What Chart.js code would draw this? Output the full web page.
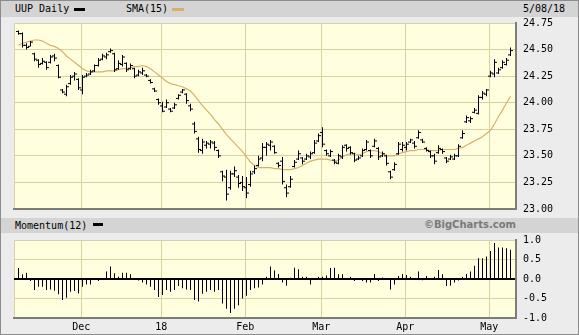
<!DOCTYPE html>
<html>
<head>
<meta charset="utf-8">
<title>UUP Daily</title>
<script src="https://cdn.jsdelivr.net/npm/chart.js@4.4.1/dist/chart.umd.min.js"></script>
<style>
  body { margin: 0; background: #fff; }
  #frame { position: relative; width: 579px; height: 335px; background: #ececec; overflow: hidden;
           font-family: 'DejaVu Sans Mono', monospace; font-size: 10px; color: #000; }
  #edge { position: absolute; left: 0; top: 0; width: 579px; height: 335px; box-sizing: border-box;
          border: 1px solid #8c8c8c; pointer-events: none; z-index: 5; }
  .strip { position: absolute; left: 0; width: 579px; background: #d4d4d4; }
  .txt { position: absolute; white-space: nowrap; line-height: 12px; }
  .sw { position: absolute; height: 3px; }
  canvas { position: absolute; left: 0; }
</style>
</head>
<body>
<div id="frame">
  <div class="strip" style="top:0;height:17px;"></div>
  <div class="txt" style="left:15px;top:3px;">UUP Daily</div>
  <div class="sw" style="left:74px;top:8px;width:11px;background:#000;"></div>
  <div class="txt" style="left:126px;top:3px;">SMA(15)</div>
  <div class="sw" style="left:172px;top:8px;width:12px;background:#d8b06a;"></div>
  <div class="txt" style="left:523px;top:3px;">5/08/18</div>

  <div class="strip" style="top:218px;height:15px;"></div>
  <div class="txt" style="left:15px;top:220px;">Momentum(12)</div>
  <div class="sw" style="left:93px;top:223px;width:10px;background:#000;"></div>
  <div class="txt" style="right:63px;top:219px;font-family:'DejaVu Sans',sans-serif;font-weight:bold;font-size:10px;color:#7a7a7a;">©BigCharts.com</div>

  <canvas id="priceChart" width="579" height="222" style="top:0;"></canvas>
  <canvas id="momChart" width="579" height="106" style="top:227px;"></canvas>
  <div id="edge"></div>
</div>

<script>
// Daily bars, 11/08/17 .. 5/08/18 (one entry per trading day)
const openVals = [
  24.67, 24.65, 24.54, 24.53, 24.46, 24.40, 24.37, 24.38, 24.38, 24.44,
  24.35, 24.12, 24.08, 24.18, 24.25, 24.22, 24.12, 24.25, 24.27, 24.30,
  24.35, 24.41, 24.43, 24.48, 24.46, 24.32, 24.36, 24.37, 24.32, 24.32,
  24.26, 24.28, 24.26, 24.21, 24.13, 24.03, 23.97, 23.96, 23.94, 23.95,
  24.04, 24.10, 24.08, 23.97, 23.80, 23.66, 23.55, 23.60, 23.61, 23.62,
  23.55, 23.35, 23.30, 23.20, 23.33, 23.30, 23.25, 23.20, 23.23, 23.35,
  23.41, 23.48, 23.58, 23.60, 23.59, 23.43, 23.45, 23.20, 23.21, 23.40,
  23.47, 23.48, 23.47, 23.49, 23.53, 23.64, 23.72, 23.55, 23.50, 23.46,
  23.43, 23.49, 23.60, 23.58, 23.52, 23.47, 23.50, 23.56, 23.55, 23.59,
  23.57, 23.50, 23.50, 23.35, 23.37, 23.52, 23.56, 23.58, 23.63, 23.62,
  23.67, 23.65, 23.57, 23.54, 23.50, 23.53, 23.56, 23.48, 23.47, 23.47,
  23.50, 23.67, 23.82, 23.83, 23.91, 23.90, 24.05, 24.08, 24.25, 24.27,
  24.28, 24.33, 24.36, 24.45
];
const highVals = [
  24.68, 24.66, 24.56, 24.58, 24.47, 24.41, 24.42, 24.39, 24.45, 24.46,
  24.36, 24.13, 24.17, 24.26, 24.29, 24.23, 24.26, 24.28, 24.31, 24.36,
  24.42, 24.46, 24.47, 24.51, 24.47, 24.40, 24.45, 24.38, 24.37, 24.33,
  24.31, 24.33, 24.27, 24.22, 24.14, 24.04, 24.01, 24.03, 23.95, 24.00,
  24.08, 24.13, 24.09, 23.99, 23.82, 23.68, 23.66, 23.64, 23.65, 23.64,
  23.56, 23.36, 23.37, 23.36, 23.40, 23.32, 23.31, 23.30, 23.36, 23.41,
  23.50, 23.62, 23.63, 23.65, 23.60, 23.44, 23.49, 23.23, 23.31, 23.46,
  23.55, 23.49, 23.52, 23.54, 23.65, 23.71, 23.77, 23.56, 23.56, 23.47,
  23.52, 23.60, 23.61, 23.59, 23.53, 23.50, 23.57, 23.65, 23.56, 23.66,
  23.58, 23.54, 23.51, 23.36, 23.44, 23.63, 23.63, 23.63, 23.66, 23.64,
  23.74, 23.66, 23.58, 23.55, 23.52, 23.60, 23.57, 23.49, 23.51, 23.52,
  23.61, 23.74, 23.88, 23.87, 23.95, 24.07, 24.11, 24.13, 24.30, 24.41,
  24.33, 24.40, 24.42, 24.52
];
const lowVals = [
  24.64, 24.52, 24.50, 24.53, 24.39, 24.33, 24.36, 24.31, 24.37, 24.39,
  24.23, 24.09, 24.06, 24.17, 24.21, 24.12, 24.08, 24.24, 24.26, 24.29,
  24.34, 24.40, 24.41, 24.47, 24.29, 24.31, 24.34, 24.29, 24.31, 24.23,
  24.25, 24.26, 24.24, 24.18, 24.10, 23.98, 23.91, 23.95, 23.91, 23.94,
  24.03, 24.09, 23.99, 23.92, 23.71, 23.53, 23.52, 23.57, 23.57, 23.55,
  23.48, 23.26, 23.08, 23.18, 23.30, 23.20, 23.17, 23.10, 23.21, 23.33,
  23.40, 23.45, 23.50, 23.55, 23.52, 23.39, 23.23, 23.11, 23.20, 23.39,
  23.46, 23.42, 23.46, 23.47, 23.52, 23.63, 23.58, 23.50, 23.49, 23.42,
  23.42, 23.47, 23.54, 23.51, 23.44, 23.46, 23.49, 23.55, 23.48, 23.58,
  23.46, 23.49, 23.41, 23.28, 23.36, 23.51, 23.54, 23.55, 23.62, 23.57,
  23.66, 23.62, 23.54, 23.48, 23.42, 23.52, 23.52, 23.43, 23.46, 23.46,
  23.49, 23.66, 23.81, 23.81, 23.90, 23.89, 24.03, 24.06, 24.24, 24.24,
  24.27, 24.32, 24.35, 24.44
];
const closeVals = [
  24.65, 24.54, 24.52, 24.57, 24.41, 24.36, 24.39, 24.33, 24.43, 24.42,
  24.24, 24.10, 24.15, 24.24, 24.27, 24.14, 24.24, 24.26, 24.29, 24.35,
  24.40, 24.44, 24.45, 24.49, 24.31, 24.37, 24.43, 24.31, 24.35, 24.25,
  24.29, 24.30, 24.25, 24.19, 24.11, 24.00, 23.92, 24.00, 23.92, 23.98,
  24.07, 24.12, 24.02, 23.94, 23.73, 23.56, 23.63, 23.62, 23.63, 23.58,
  23.50, 23.31, 23.14, 23.33, 23.36, 23.24, 23.21, 23.15, 23.33, 23.38,
  23.47, 23.58, 23.61, 23.63, 23.53, 23.41, 23.26, 23.15, 23.28, 23.44,
  23.52, 23.45, 23.50, 23.52, 23.62, 23.69, 23.61, 23.52, 23.54, 23.44,
  23.50, 23.58, 23.57, 23.53, 23.46, 23.48, 23.55, 23.63, 23.50, 23.64,
  23.49, 23.52, 23.43, 23.30, 23.42, 23.61, 23.60, 23.61, 23.65, 23.59,
  23.72, 23.63, 23.55, 23.50, 23.45, 23.57, 23.54, 23.45, 23.49, 23.50,
  23.59, 23.71, 23.86, 23.85, 23.93, 24.05, 24.09, 24.12, 24.28, 24.38,
  24.31, 24.38, 24.40, 24.49
];
// SMA(15)
const smaVals = [
  24.54, 24.56, 24.57, 24.58, 24.59, 24.59, 24.58, 24.56, 24.54, 24.53,
  24.51, 24.48, 24.44, 24.41, 24.38, 24.35, 24.32, 24.30, 24.29, 24.29,
  24.29, 24.29, 24.30, 24.30, 24.30, 24.31, 24.32, 24.32, 24.33, 24.34,
  24.34, 24.35, 24.34, 24.32, 24.29, 24.26, 24.23, 24.20, 24.18, 24.17,
  24.16, 24.15, 24.13, 24.11, 24.07, 24.02, 23.97, 23.93, 23.89, 23.84,
  23.80, 23.75, 23.70, 23.66, 23.62, 23.58, 23.54, 23.49, 23.44, 23.41,
  23.39, 23.39, 23.39, 23.39, 23.38, 23.38, 23.37, 23.37, 23.37, 23.38,
  23.39, 23.41, 23.43, 23.45, 23.46, 23.47, 23.47, 23.47, 23.46, 23.45,
  23.46, 23.49, 23.51, 23.52, 23.52, 23.51, 23.52, 23.54, 23.55, 23.55,
  23.54, 23.52, 23.50, 23.50, 23.50, 23.52, 23.53, 23.54, 23.55, 23.55,
  23.56, 23.56, 23.56, 23.55, 23.55, 23.55, 23.56, 23.56, 23.56, 23.56,
  23.57, 23.58, 23.60, 23.62, 23.64, 23.66, 23.68, 23.71, 23.74, 23.80,
  23.87, 23.93, 24.00, 24.06
];
// Momentum(12)
const momVals = [
  0.28, 0.12, 0.16, -0.05, -0.28, -0.20, -0.20, -0.28, -0.27, -0.30,
  -0.39, -0.54, -0.48, -0.33, -0.31, -0.37, -0.20, -0.14, -0.14, -0.01,
  -0.05, 0.00, 0.19, 0.32, 0.15, 0.06, 0.16, 0.16, 0.12, 0.00,
  -0.04, -0.09, -0.14, -0.20, -0.28, -0.46, -0.41, -0.28, -0.33, -0.28,
  -0.18, -0.24, -0.27, -0.28, -0.54, -0.58, -0.38, -0.33, -0.28, -0.33,
  -0.28, -0.63, -0.76, -0.87, -0.76, -0.67, -0.50, -0.43, -0.28, -0.24,
  -0.22, -0.14, 0.06, 0.32, 0.22, 0.13, -0.09, -0.17, 0.03, 0.29,
  0.25, 0.06, 0.06, -0.14, 0.00, 0.06, 0.06, 0.09, 0.28, 0.29,
  0.12, 0.12, 0.00, 0.06, -0.05, 0.00, -0.05, -0.09, -0.09, 0.13,
  -0.05, 0.04, 0.00, -0.27, -0.14, 0.08, 0.13, 0.10, 0.06, 0.00,
  0.19, -0.03, 0.08, 0.00, 0.06, 0.23, 0.12, -0.18, -0.17, -0.09,
  -0.04, 0.06, 0.13, 0.19, 0.34, 0.53, 0.53, 0.58, 0.72, 0.92,
  0.81, 0.81, 0.79, 0.75
];
// first trading day of each month (bar index) and its label
const monthStarts = [16, 36, 57, 76, 97, 118];
const monthLabels = ['Dec', '18', 'Feb', 'Mar', 'Apr', 'May'];

const GRID = '#d6d2a2';
const EDGE = '#7c7c7c';
const FONT = { family: 'DejaVu Sans Mono', size: 10 };

Chart.defaults.animation = false;
Chart.defaults.font = FONT;
Chart.defaults.color = '#000';

// plot background + the light top/left border
const plotFrame = {
    id: 'plotFrame',
    beforeDraw(chart) {
        const ctx = chart.ctx, a = chart.chartArea;
        ctx.save();
        ctx.fillStyle = '#ffffe0';
        ctx.fillRect(a.left, a.top, a.right - a.left, a.bottom - a.top);
        ctx.strokeStyle = GRID;
        ctx.lineWidth = 1;
        ctx.beginPath();
        ctx.moveTo(a.left + 0.5, a.bottom);
        ctx.lineTo(a.left + 0.5, a.top + 0.5);
        ctx.lineTo(a.right, a.top + 0.5);
        ctx.stroke();
        ctx.restore();
    }
};

function xAxis(showLabels) {
    return {
        type: 'linear',
        min: -1.125,
        max: 124.375,
        offset: false,
        afterBuildTicks: function(s) {
            s.ticks = monthStarts.map(v => ({ value: v - 0.3 }));
        },
        afterFit: function(s) { s.height = showLabels ? 15 : 0; },
        grid: { color: GRID, drawTicks: false, offset: false },
        border: { color: EDGE, width: 2 },
        ticks: {
            display: showLabels,
            autoSkip: false,
            maxRotation: 0,
            padding: 3,
            callback: (v, i) => monthLabels[i]
        }
    };
}

function createPriceChart() {
    const ctx = document.getElementById('priceChart').getContext('2d');
    new Chart(ctx, {
        type: 'bar',
        plugins: [plotFrame],
        data: {
            datasets: [
                {
                    type: 'line',
                    data: smaVals.map((v, i) => ({ x: i, y: v })),
                    borderColor: '#d8b06a',
                    borderWidth: 1.2,
                    pointRadius: 0,
                    order: 3
                },
                {
                    // high-low range
                    type: 'bar',
                    data: highVals.map((v, i) => ({ x: i, y: [lowVals[i], v] })),
                    backgroundColor: '#000',
                    barThickness: 1,
                    borderWidth: 0,
                    inflateAmount: 0,
                    order: 2
                },
                {
                    // open tick (left)
                    type: 'line',
                    showLine: false,
                    data: openVals.map((v, i) => ({ x: i - 0.375, y: v })),
                    pointStyle: 'line',
                    pointRadius: 1,
                    pointBorderWidth: 1,
                    pointBorderColor: '#000',
                    order: 1
                },
                {
                    // close tick (right)
                    type: 'line',
                    showLine: false,
                    data: closeVals.map((v, i) => ({ x: i + 0.375, y: v })),
                    pointStyle: 'line',
                    pointRadius: 1,
                    pointBorderWidth: 1,
                    pointBorderColor: '#000',
                    order: 1
                }
            ]
        },
        options: {
            responsive: false,
            layout: { padding: { left: 14, top: 23, right: 0, bottom: 8 } },
            plugins: { legend: { display: false }, tooltip: { enabled: false } },
            scales: {
                x: xAxis(false),
                y: {
                    position: 'right',
                    min: 23,
                    max: 24.75,
                    afterFit: function(s) { s.width = 63; },
                    grid: { color: GRID, drawTicks: false },
                    border: { color: EDGE, width: 2 },
                    ticks: { stepSize: 0.25, padding: 7, callback: v => v.toFixed(2) }
                }
            }
        }
    });
}

function createMomentumChart() {
    const ctx = document.getElementById('momChart').getContext('2d');
    new Chart(ctx, {
        type: 'bar',
        plugins: [plotFrame],
        data: {
            datasets: [{
                data: momVals.map((v, i) => ({ x: i, y: v })),
                backgroundColor: '#000',
                barThickness: 1,
                borderWidth: 0,
                inflateAmount: 0
            }]
        },
        options: {
            responsive: false,
            layout: { padding: { left: 14, top: 6, right: 0, bottom: 0 } },
            plugins: { legend: { display: false }, tooltip: { enabled: false } },
            scales: {
                x: xAxis(true),
                y: {
                    position: 'right',
                    min: -1,
                    max: 1,
                    afterFit: function(s) { s.width = 63; },
                    grid: {
                        drawTicks: false,
                        color: c => c.tick.value === 0 ? '#000' : GRID,
                        lineWidth: c => c.tick.value === 0 ? 2 : 1
                    },
                    border: { color: EDGE, width: 2 },
                    ticks: { stepSize: 0.5, padding: 7, callback: v => v.toFixed(1) }
                }
            }
        }
    });
}

createPriceChart();
createMomentumChart();
</script>
</body>
</html>
